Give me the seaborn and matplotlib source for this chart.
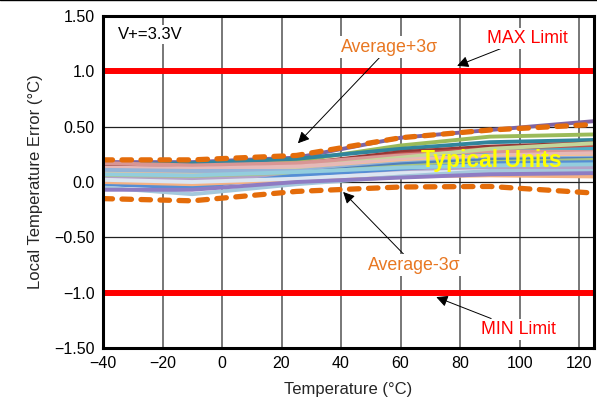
import numpy as np
import pandas as pd
import matplotlib
matplotlib.use("Agg")
import matplotlib.pyplot as plt
from matplotlib.lines import Line2D
import seaborn as sns

# ---- data ----
temps = [-40, -10, 25, 60, 90, 125]

unit_names = ["U01", "U02", "U03", "U04", "U05", "U06", "U07", "U08", "U09",
              "U10", "U11", "U12", "U13", "U14", "U15", "U16", "U17", "U18",
              "U19", "U20"]
unit_values = [
    [0.18, 0.18, 0.22, 0.40, 0.47, 0.55],
    [0.15, 0.15, 0.19, 0.33, 0.41, 0.43],
    [0.16, 0.17, 0.21, 0.30, 0.36, 0.38],
    [0.14, 0.13, 0.16, 0.27, 0.32, 0.35],
    [0.12, 0.12, 0.15, 0.25, 0.30, 0.32],
    [0.10, 0.09, 0.12, 0.22, 0.27, 0.30],
    [0.17, 0.15, 0.17, 0.24, 0.28, 0.27],
    [0.09, 0.10, 0.13, 0.22, 0.30, 0.35],
    [0.13, 0.12, 0.14, 0.20, 0.24, 0.26],
    [0.08, 0.07, 0.10, 0.18, 0.22, 0.23],
    [0.11, 0.10, 0.10, 0.17, 0.21, 0.22],
    [0.06, 0.05, 0.08, 0.16, 0.20, 0.21],
    [0.05, 0.04, 0.08, 0.14, 0.18, 0.20],
    [0.03, 0.02, 0.05, 0.10, 0.12, 0.13],
    [-0.02, -0.05, 0.06, 0.12, 0.17, 0.18],
    [0.00, -0.02, 0.02, 0.05, 0.06, 0.05],
    [0.02, 0.00, 0.03, 0.08, 0.10, 0.09],
    [-0.05, -0.11, -0.02, 0.05, 0.10, 0.10],
    [-0.07, -0.07, 0.00, 0.04, 0.07, 0.08],
    [0.07, 0.06, 0.09, 0.13, 0.15, 0.16],
]
unit_colors = ["#8064A2", "#9BBB59", "#31859C", "#953735", "#C0504D", "#4BACC6",
               "#D99694", "#C3D69B", "#E6B9B8", "#FAC08F", "#95B3D7", "#4F81BD",
               "#A9C47F", "#B3A2C7", "#558ED5", "#F4B183", "#DCE6F2", "#A5C8DC",
               "#8E7CC3", "#93CDDD"]

avg_plus_3s = [0.20, 0.20, 0.24, 0.40, 0.47, 0.52]
avg_minus_3s = [-0.15, -0.17, -0.085, -0.045, -0.04, -0.10]

max_limit = 1.0
min_limit = -1.0

x_ticks = [-40, -20, 0, 20, 40, 60, 80, 100, 120]
x_tick_labels = ["\u221240", "\u221220", "0", "20", "40", "60", "80", "100", "120"]
y_ticks = [1.5, 1.0, 0.5, 0.0, -0.5, -1.0, -1.5]
y_tick_labels = ["1.50", "1.0", "0.50", "0.0", "\u22120.50", "\u22121.0", "\u22121.50"]

# ---- build table ----
rows = []
for name, vals in zip(unit_names, unit_values):
    for t, v in zip(temps, vals):
        rows.append({"unit": name, "temp": t, "err": v})
df = pd.DataFrame(rows)

sns.set_style("white")
plt.rcParams["font.family"] = ["Liberation Sans", "DejaVu Sans"]

fig = plt.figure(figsize=(5.97, 4.11), dpi=100)
ax = fig.add_axes([0.1725, 0.1533, 0.8225, 0.8077])

# grid
for xt in x_ticks:
    ax.axvline(xt, color="#606060", lw=1.2, zorder=0)
for yt in y_ticks:
    ax.axhline(yt, color="#202020", lw=0.9, zorder=0)

sns.lineplot(data=df, x="temp", y="err", hue="unit", palette=unit_colors,
             lw=2.8, legend=False, ax=ax, zorder=2)

ax.axhline(max_limit, color="#FF0000", lw=4.3, zorder=4)
ax.axhline(min_limit, color="#FF0000", lw=4.3, zorder=4)

ax.plot(temps, avg_plus_3s, color="#E46C0A", lw=3.8, dashes=(1.8, 1.8),
        dash_capstyle="round", zorder=5)
ax.plot(temps, avg_minus_3s, color="#E46C0A", lw=3.8, dashes=(1.8, 1.8),
        dash_capstyle="round", zorder=5)

ax.set_xlim(-40, 125)
ax.set_ylim(-1.5, 1.5)
ax.set_xticks(x_ticks)
ax.set_xticklabels(x_tick_labels)
ax.set_yticks(y_ticks)
ax.set_yticklabels(y_tick_labels)
ax.tick_params(axis="both", length=0, labelsize=11.5, colors="black", pad=6)
ax.set_xlabel("Temperature (\u00b0C)", fontsize=12, labelpad=8)
ax.set_ylabel("Local Temperature Error (\u00b0C)", fontsize=12, labelpad=8)
for s in ax.spines.values():
    s.set_visible(True)
    s.set_color("black")
    s.set_linewidth(2.2)
    s.set_zorder(6)

bbox = dict(facecolor="white", edgecolor="none", pad=1.5)
ax.text(-35, 1.33, "V+=3.3V", fontsize=12, color="black", va="center",
        ha="left", bbox=bbox, zorder=7)
ax.text(90.5, 0.19, "Typical Units", fontsize=16.5, fontweight="bold",
        color="#FFFF00", ha="center", va="center", zorder=7)

arrow = dict(arrowstyle="-|>", color="black", lw=0.7, mutation_scale=17,
             shrinkA=0, shrinkB=0)
ax.annotate("Average+3\u03c3", xy=(25.5, 0.35), xytext=(40, 1.22),
            fontsize=12.8, color="#E87722", va="center", ha="left",
            bbox=bbox, arrowprops=arrow, zorder=7)
ax.annotate("MAX Limit", xy=(79, 1.05), xytext=(89, 1.30),
            fontsize=12.8, color="#FF0000", va="center", ha="left",
            bbox=bbox, arrowprops=arrow, zorder=7)
ax.annotate("Average-3\u03c3", xy=(40.7, -0.09), xytext=(49, -0.75),
            fontsize=12.8, color="#E87722", va="center", ha="left",
            bbox=bbox, arrowprops=arrow, zorder=7)
ax.annotate("MIN Limit", xy=(72, -1.04), xytext=(87, -1.33),
            fontsize=12.8, color="#FF0000", va="center", ha="left",
            bbox=bbox, arrowprops=arrow, zorder=7)

fig.add_artist(Line2D([0, 1], [0.999, 0.999], transform=fig.transFigure,
                      color="black", lw=1.0))

fig.savefig("out.png", dpi=100)
